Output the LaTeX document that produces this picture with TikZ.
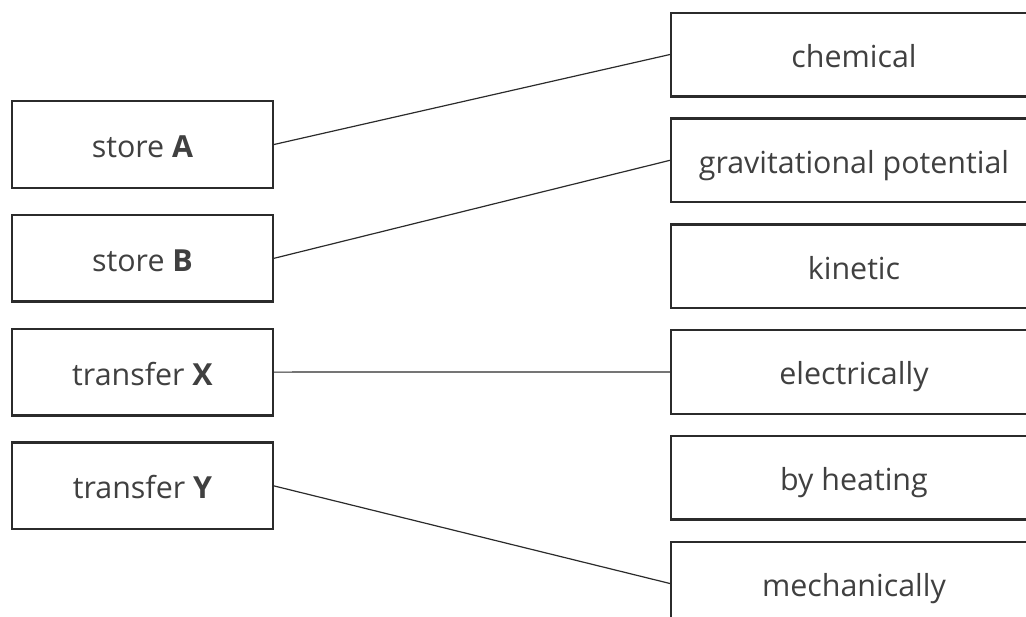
\documentclass[tikz,border=0pt]{standalone}
\usepackage{fontspec}
\setmainfont{Open Sans}
\usetikzlibrary{positioning}

\definecolor{boxline}{HTML}{2B2B2B}
\definecolor{labeltext}{HTML}{404040}

\begin{document}
\begin{tikzpicture}[
  x=0.5pt, y=-0.5pt,
  every node/.style={font=\fontsize{15.2}{18}\selectfont, text=labeltext, text height=15.5pt, text depth=2.5pt},
  leftbox/.style={draw=boxline, line width=1.2pt, minimum width=130.3pt, minimum height=43.3pt, inner sep=0pt},
  rightbox/.style={draw=boxline, line width=1.2pt, minimum width=182.8pt, minimum height=41.8pt, inner sep=0pt},
  link/.style={draw=boxline, line width=0.6pt},
]

% --- Frame (right column runs off the edge) ---
\path[use as bounding box] (0,0) rectangle (1026,616);
\clip (0,0) rectangle (1026,616);

% Left column: stores and transfers
\node[leftbox] (storeA) at (142.5,144.5) {store \textbf{A}};
\node[leftbox, below=12.4pt of storeA] (storeB) {store \textbf{B}};
\node[leftbox, below=12.4pt of storeB] (transX) {transfer \textbf{X}};
\node[leftbox, below=12.4pt of transX] (transY) {transfer \textbf{Y}};

% Right column: options
\node[rightbox] (chem) at (854,54.5) {chemical};
\node[rightbox, below=9.9pt of chem] (grav) {gravitational potential};
\node[rightbox, below=9.9pt of grav] (kin) {kinetic};
\node[rightbox, below=9.9pt of kin] (elec) {electrically};
\node[rightbox, below=9.9pt of elec] (heat) {by heating};
\node[rightbox, below=9.9pt of heat] (mech) {mechanically};

% Matching lines
\draw[link] (storeA.east) -- (chem.west);
\draw[link] (storeB.east) -- (grav.west);
\draw[link] (transX.east) -- (elec.west);
\draw[link] (transY.east) -- (mech.west);

\end{tikzpicture}
\end{document}
